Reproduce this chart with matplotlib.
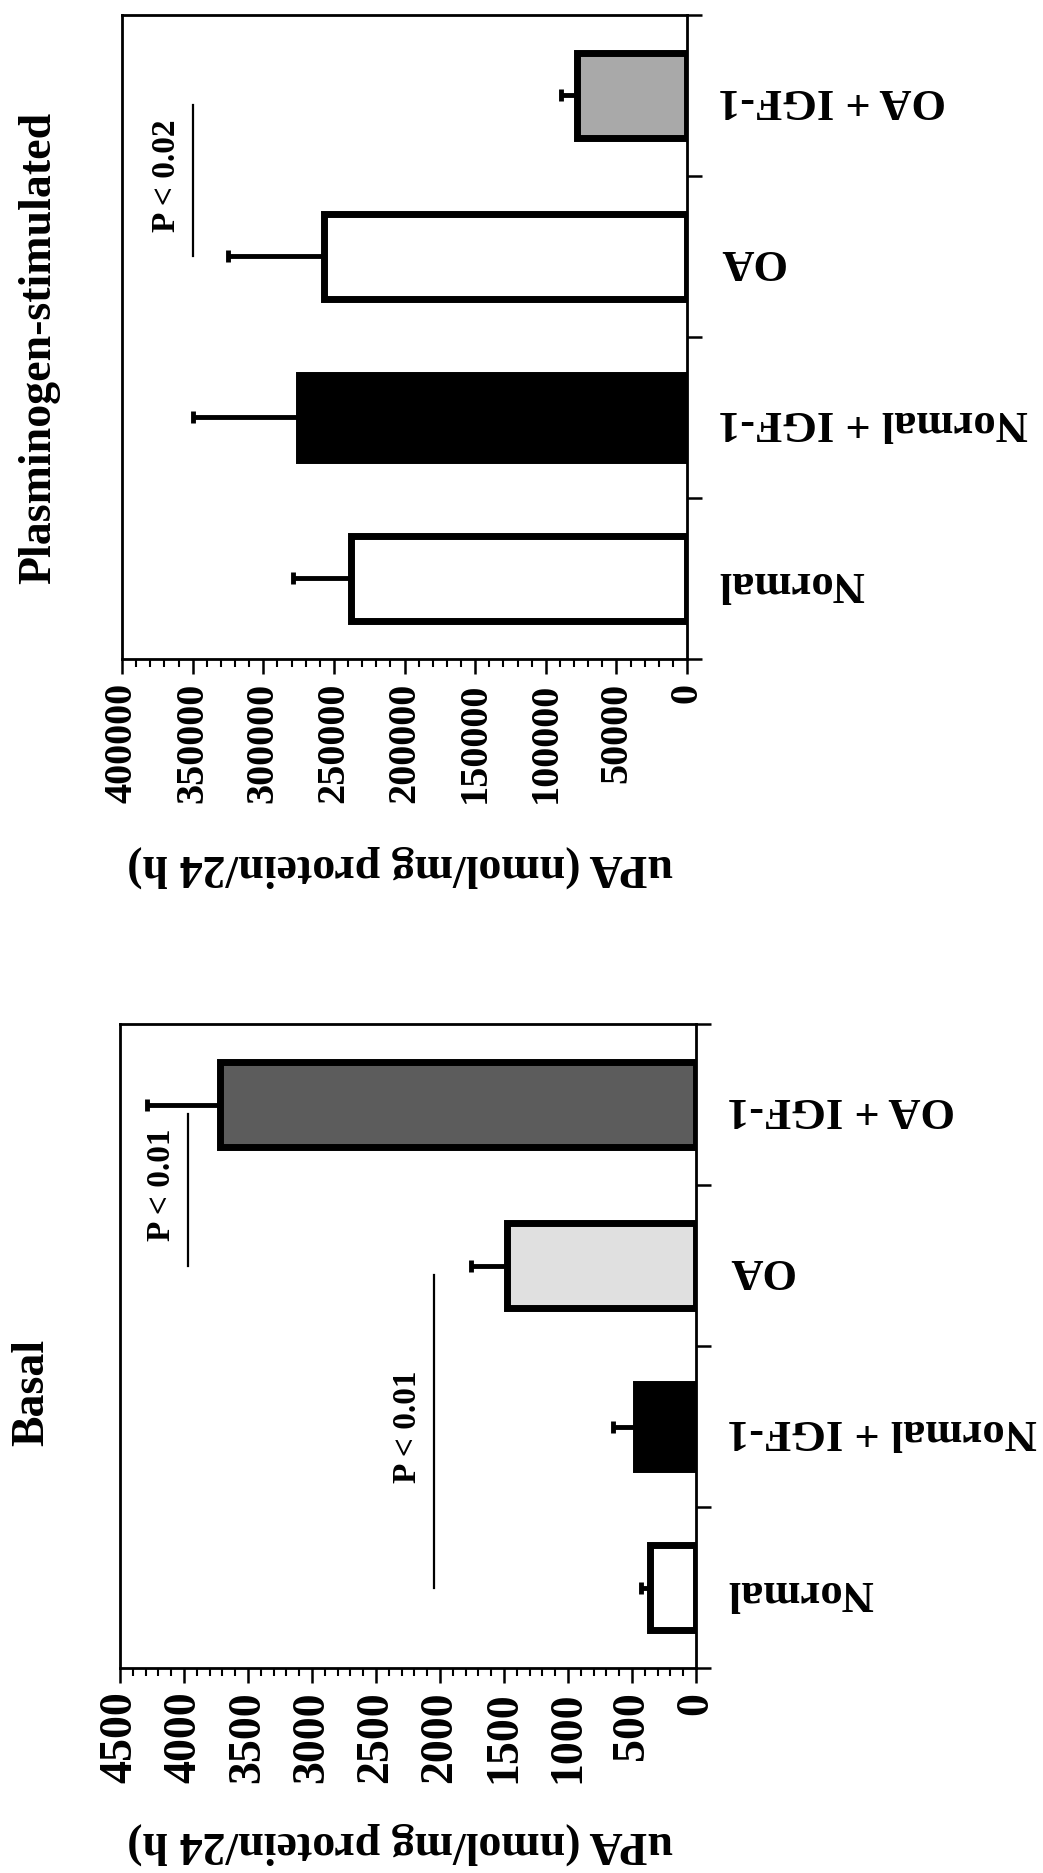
import matplotlib
matplotlib.use("Agg")
import matplotlib.pyplot as plt
from matplotlib.ticker import MultipleLocator

plt.rcParams['font.family'] = ['Liberation Serif', 'DejaVu Serif']
plt.rcParams['font.weight'] = 'bold'

categories = ['Normal', 'Normal + IGF-1', 'OA', 'OA + IGF-1']

basal_mean = [360, 470, 1480, 3720]
basal_err = [70, 180, 275, 570]
basal_colors = ['white', 'black', '#e0e0e0', '#5c5c5c']

plasmin_mean = [238000, 275000, 257000, 78000]
plasmin_err = [41000, 75000, 68000, 11500]
plasmin_colors = ['white', 'black', 'white', '#a9a9a9']

# (group a, group b, value where the bar sits, label)
basal_sig = [(0, 2, 2050, 'P < 0.01'), (2, 3, 3970, 'P < 0.01')]
plasmin_sig = [(2, 3, 350000, 'P < 0.02')]

ylabel = 'uPA (nmol/mg protein/24 h)'


def draw_panel(ax, means, errs, colors, sig, vmax, major, minor, tick_fs):
    pos = list(range(len(categories)))
    ax.barh(pos, means, height=0.53, color=colors, edgecolor='black',
            linewidth=5, zorder=3)
    ax.errorbar(means, pos, xerr=[[0] * len(errs), errs], fmt='none',
                ecolor='black', elinewidth=3.5, capsize=4.5, capthick=3.5,
                zorder=2)
    for a, b, val, txt in sig:
        ax.plot([val, val], [a, b - 0.06], color='black', lw=1.6, zorder=4)
        ax.annotate(txt, xy=(val, (a + b) / 2), xytext=(-8, 0),
                    textcoords='offset points', rotation=90, ha='right',
                    va='center', fontsize=24, fontweight='bold')

    ax.set_xlim(vmax, 0)
    ax.set_ylim(-0.5, len(categories) - 0.5)
    ax.xaxis.set_major_locator(MultipleLocator(major))
    ax.xaxis.set_minor_locator(MultipleLocator(minor))
    ax.tick_params(axis='x', which='major', direction='out', length=11,
                   width=1.8, labelsize=tick_fs, labelrotation=90, pad=6)
    ax.tick_params(axis='x', which='minor', direction='out', length=6,
                   width=1.5)

    ax.set_yticks(pos)
    ax.set_yticklabels(categories, rotation=180, fontsize=32,
                       fontweight='bold')
    ax.set_yticks([p - 0.5 for p in pos] + [len(pos) - 0.5], minor=True)
    ax.yaxis.tick_right()
    ax.tick_params(axis='y', which='major', length=0, pad=22)
    ax.tick_params(axis='y', which='minor', direction='out', length=11,
                   width=1.8)
    for sp in ax.spines.values():
        sp.set_linewidth(2)


fig = plt.figure(figsize=(10.43, 18.73), dpi=100)

ax_top = fig.add_axes([0.117, 0.6482, 0.5417, 0.3438])
draw_panel(ax_top, plasmin_mean, plasmin_err, plasmin_colors, plasmin_sig,
           400000, 50000, 10000, 29)

ax_bot = fig.add_axes([0.1151, 0.1094, 0.5523, 0.3438])
draw_panel(ax_bot, basal_mean, basal_err, basal_colors, basal_sig,
           4500, 500, 100, 33)

fig.text(0.048, 1 - 348 / 1873, 'Plasminogen-stimulated', rotation=90,
         rotation_mode='anchor', ha='center', va='baseline', fontsize=33,
         fontweight='bold')
fig.text(0.041, 1 - 1392 / 1873, 'Basal', rotation=90,
         rotation_mode='anchor', ha='center', va='baseline', fontsize=33,
         fontweight='bold')

fig.text(400 / 1043, 1 - 866 / 1873, ylabel, rotation=180, ha='center',
         va='center', fontsize=33, fontweight='bold')
fig.text(400 / 1043, 1 - 1843 / 1873, ylabel, rotation=180, ha='center',
         va='center', fontsize=33, fontweight='bold')

fig.savefig('out.png', dpi=100, facecolor='white')
